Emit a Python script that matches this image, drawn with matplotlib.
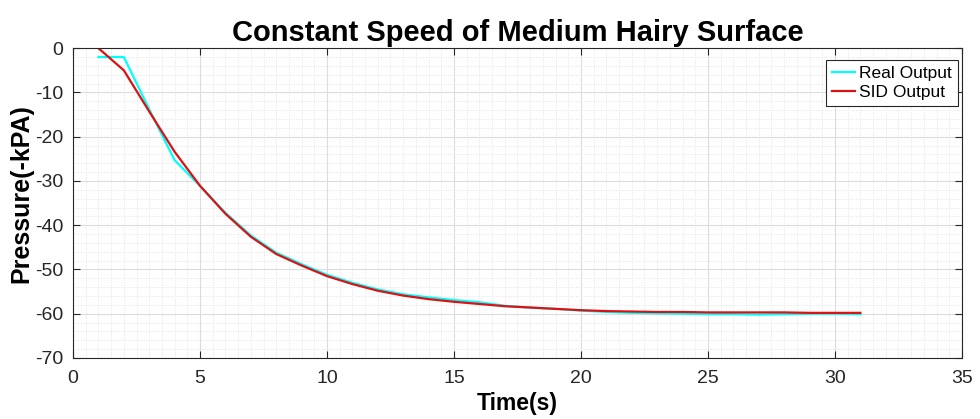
import matplotlib
matplotlib.use("Agg")
import matplotlib.pyplot as plt
from matplotlib.ticker import MultipleLocator

plt.rcParams['font.family'] = ['Liberation Sans', 'DejaVu Sans']
plt.rcParams['axes.unicode_minus'] = False

# Sample times (s) and measured / identified-model pressures (-kPa)
time_s = list(range(1, 32))
real_output = [-2.0, -2.0, -13.8, -25.3, -31.1, -37.2, -42.3, -46.2, -48.8, -51.2,
               -53.0, -54.5, -55.6, -56.3, -56.9, -57.4, -58.2, -58.6, -58.9, -59.3,
               -59.6, -59.8, -59.9, -60.0, -60.1, -60.1, -60.2, -60.1, -60.0, -60.0,
               -60.1]
sid_output = [0.0, -5.0, -14.3, -23.4, -31.1, -37.4, -42.6, -46.5, -49.1, -51.5,
              -53.3, -54.8, -55.9, -56.7, -57.3, -57.8, -58.3, -58.6, -58.9, -59.2,
              -59.4, -59.5, -59.6, -59.6, -59.7, -59.7, -59.7, -59.7, -59.8, -59.8,
              -59.8]

title = "Constant Speed of Medium Hairy Surface"
x_label = "Time(s)"
y_label = "Pressure(-kPA)"
series_labels = ["Real Output", "SID Output"]

fig = plt.figure(figsize=(9.8, 4.19), dpi=100)
ax = fig.add_axes([0.0745, 0.1456, 0.9071, 0.7394])

ax.plot(time_s, real_output, color="#00ffff", lw=1.6, label=series_labels[0])
ax.plot(time_s, sid_output, color="#dd1111", lw=1.6, label=series_labels[1])

ax.set_xlim(0, 35)
ax.set_ylim(-70, 0)
ax.xaxis.set_major_locator(MultipleLocator(5))
ax.xaxis.set_minor_locator(MultipleLocator(0.5))
ax.yaxis.set_major_locator(MultipleLocator(10))
ax.yaxis.set_minor_locator(MultipleLocator(2))

frame = "#262626"
ax.grid(which="major", color="#dcdcdc", lw=0.8, ls="-")
ax.grid(which="minor", color="#e6e6e6", lw=0.6, ls=(0, (1.5, 1.5)))
ax.set_axisbelow(True)
for s in ax.spines.values():
    s.set_color(frame)
    s.set_linewidth(0.8)
ax.tick_params(which="major", direction="in", length=5, width=0.8, color=frame,
               top=True, right=True, labelsize=14, labelcolor="#262626")
ax.tick_params(axis="x", which="major", pad=9)
ax.tick_params(axis="y", which="major", pad=7)
ax.tick_params(which="minor", length=0, top=True, right=True)

ax.set_title(title, fontsize=21, fontweight="bold", pad=5)
ax.set_xlabel(x_label, fontsize=16.5, fontweight="bold", labelpad=3)
ax.set_ylabel(y_label, fontsize=18, fontweight="bold")
ax.yaxis.set_label_coords(-0.045, 0.53)

leg = ax.legend(loc="upper right", bbox_to_anchor=(0.9955, 0.963), borderaxespad=0,
                fontsize=12.5, frameon=True, fancybox=False,
                edgecolor=frame, framealpha=1, borderpad=0.35, handlelength=1.3,
                handletextpad=0.25, labelspacing=0.25)
leg.get_frame().set_linewidth(0.8)

fig.savefig("out.png", dpi=100)
